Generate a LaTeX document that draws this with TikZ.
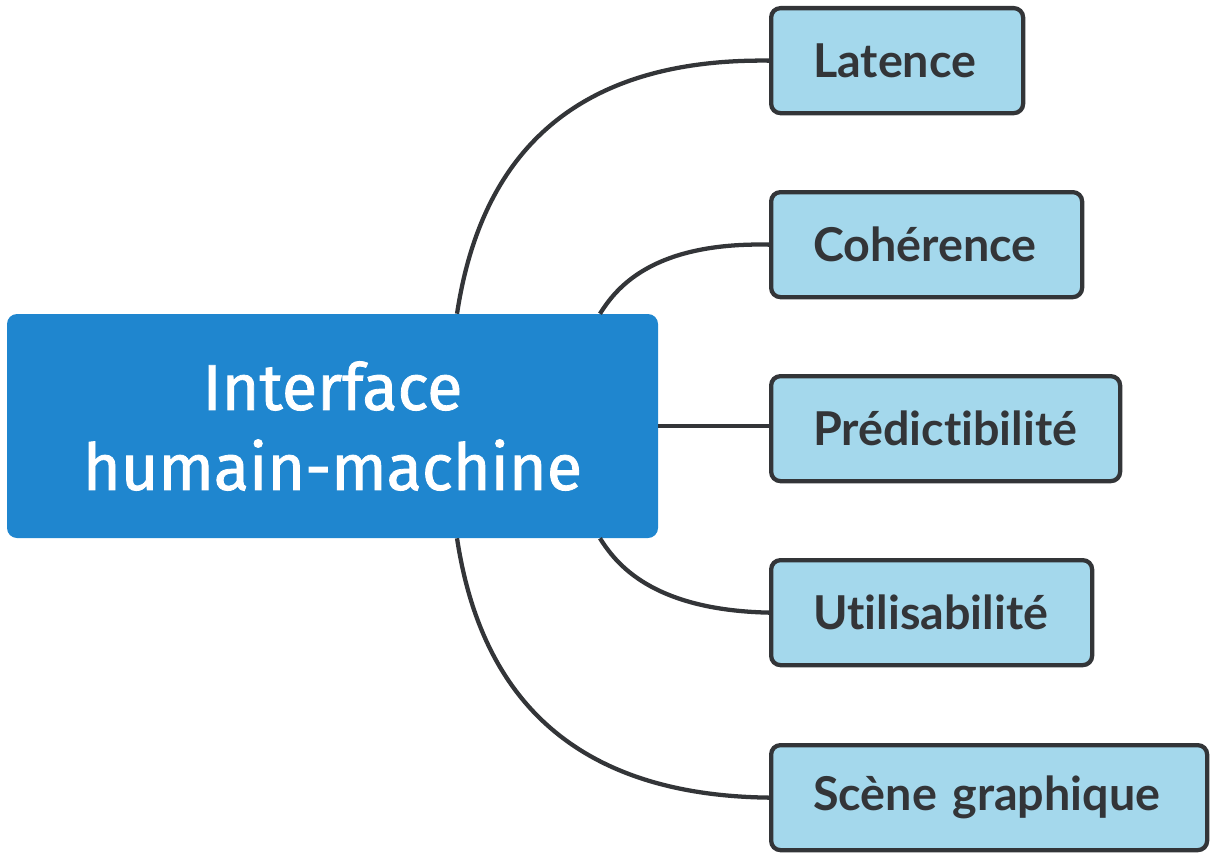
\documentclass[tikz,border=0pt]{standalone}
\usepackage{fontspec}
\setmainfont{Fira Sans}
\newfontfamily\hubfont[FakeBold=1.3]{Fira Sans}
\newfontfamily\childfont[Ligatures=NoCommon]{Lato}
\definecolor{hubblue}{HTML}{1F86CF}
\definecolor{leafblue}{HTML}{A4D8EC}
\definecolor{ink}{HTML}{333538}
\begin{document}
\begin{tikzpicture}[x=0.75pt,y=-0.75pt,
  hub/.style={fill=hubblue, rounded corners=7.5pt, text=white, align=center,
    font=\hubfont\fontsize{48.5}{60}\selectfont, minimum width=488.25pt, minimum height=168pt, inner sep=0pt},
  leaf/.style={fill=leafblue, draw=ink, line width=3.2pt, rounded corners=7pt, text=ink,
    font=\childfont\bfseries\fontsize{35}{38}\selectfont, align=left, anchor=north west,
    minimum height=78.75pt, inner xsep=31.5pt, inner ysep=0pt},
  link/.style={draw=ink, line width=3.2pt}]
\path[use as bounding box] (0,0) rectangle (1213,856);
\node[hub] (c) at (332.5,426) {Interface\\humain-machine};
\node[leaf, text width=126pt] (l1) at (769,6) {Latence};
\node[leaf, text width=170.25pt] (l2) at (769,190) {Cohérence};
\node[leaf, text width=198.75pt] (l3) at (769,374) {Prédictibilité};
\node[leaf, text width=177.75pt] (l4) at (769,558) {Utilisabilité};
\node[leaf, text width=264pt] (l5) at (769,743) {Scène graphique};
\draw[link] ([xshift=93.4pt]c.north) .. controls (478,175) and (555,58) .. (l1.west);
\draw[link] ([xshift=200.6pt]c.north) .. controls (615,290) and (650,242) .. (l2.west);
\draw[link] (c.east) -- (c.east -| l3.west);
\draw[link] ([xshift=200.6pt]c.south) .. controls (615,562) and (650,610) .. (l4.west);
\draw[link] ([xshift=93.4pt]c.south) .. controls (478,677) and (555,795) .. (l5.west);
\end{tikzpicture}
\end{document}
